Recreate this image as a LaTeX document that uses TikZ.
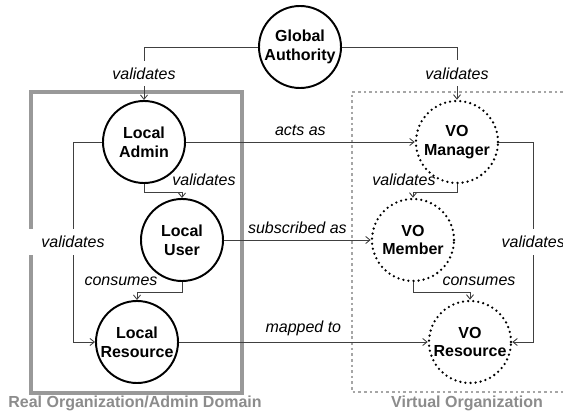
\documentclass[tikz,border=0pt]{standalone}
\usepackage{fontspec}
\setmainfont{Liberation Sans}
\usetikzlibrary{arrows.meta,calc}

\begin{document}
\begin{tikzpicture}[
  font=\fontsize{9.1}{10.8}\selectfont,
  actor/.style={circle,draw,line width=1.1pt,minimum size=1.64cm,inner sep=0pt,
    align=center,font=\fontsize{9.1}{10.8}\selectfont\bfseries},
  voactor/.style={actor,line width=1.45pt,line cap=round,dash pattern=on 0pt off 2.9pt},
  link/.style={draw=black!75,line width=0.5pt,-{Straight Barb[length=2.5pt,width=4pt]}},
  lbl/.style={font=\fontsize{9.1}{10.8}\selectfont\itshape},
  gap/.style={lbl,fill=white,inner xsep=0.25cm,inner ysep=0.14cm},
  domlabel/.style={text=black!45,font=\fontsize{9.1}{10.8}\selectfont\bfseries}
]
  \fill[white] (0,0) rectangle (11.26,8.28);
  \useasboundingbox (0,0) rectangle (11.26,8.28);

  \draw[black!40,line width=1.8pt] (0.62,0.42) rectangle (4.84,6.44);
  \draw[black!35,line width=1.5pt,dash pattern=on 1.5pt off 1.7pt]
    (11.26,6.44) -- (7.04,6.44) -- (7.04,0.44) -- (11.26,0.44);
  \node[domlabel] (realorg) at (2.70,0.22) {Real Organization/Admin Domain};
  \node[domlabel] (virtorg) at (9.34,0.22) {Virtual Organization};

  \node[actor]   (ga)     at (6.00,7.34) {Global\\Authority};
  \node[actor]   (ladmin) at (2.88,5.44) {Local\\Admin};
  \node[actor]   (luser)  at (3.64,3.48) {Local\\User};
  \node[actor]   (lres)   at (2.74,1.44) {Local\\Resource};
  \node[voactor] (vmgr)   at (9.14,5.44) {VO\\Manager};
  \node[voactor] (vmem)   at (8.26,3.48) {VO\\Member};
  \node[voactor] (vres)   at (9.40,1.44) {VO\\Resource};

  \draw[link] (ga.west) -| node[gap,pos=0.75] {validates} (ladmin.north);
  \draw[link] (ga.east) -| node[gap,pos=0.75] {validates} (vmgr.north);
  \draw[link] (ladmin.east) -- node[lbl,above] {acts as} (vmgr.west);
  \draw[link] (luser.east) -- node[lbl,above] {subscribed as} (vmem.west);
  \draw[link] (lres.east) -- node[lbl,above] {mapped to} (vres.west);
  \draw[link] (ladmin.south) -- ++(0,-0.16) -| node[lbl,above,pos=0.5,xshift=0.44cm] {validates} (luser.north);
  \draw[link] (vmgr.south) -- ++(0,-0.16) -| node[lbl,above,pos=0.5,xshift=-0.18cm] {validates} (vmem.north);
  \draw[link] (luser.south) -- ++(0,-0.2) -| node[lbl,above,pos=0.5,xshift=-0.32cm] {consumes} (lres.north);
  \draw[link] (vmem.south) -- ++(0,-0.2) -| node[lbl,above,pos=0.5,xshift=0.18cm] {consumes} (vres.north);
  \draw[link] (ladmin.west) -- ++(-0.58,0) |- node[gap,pos=0.25] {validates} (lres.west);
  \draw[link] (vmgr.east) -- ++(0.68,0) |- node[gap,pos=0.25] {validates} (vres.east);
\end{tikzpicture}
\end{document}
